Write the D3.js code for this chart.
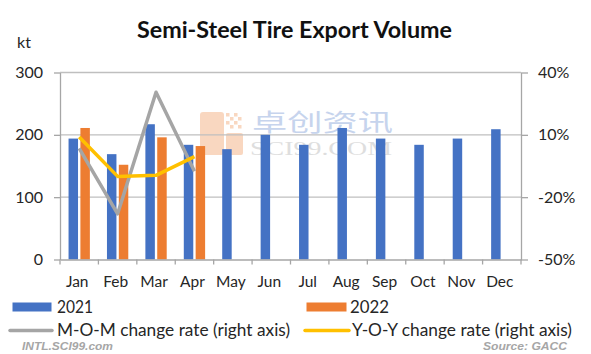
<!DOCTYPE html>
<html>
<head>
<meta charset="utf-8">
<script src="https://cdn.jsdelivr.net/npm/d3@7"></script>
<style>
  body { margin: 0; background: #fff; }
  svg { font-family: Lato, "Open Sans", sans-serif; }
</style>
</head>
<body>
<div id="container"></div>
<script>
const months = ["Jan", "Feb", "Mar", "Apr", "May", "Jun", "Jul", "Aug", "Sep", "Oct", "Nov", "Dec"]
const vol2021 = [194, 169, 217, 184, 177, 200, 184, 211, 194, 184, 194, 209]
const vol2022 = [211, 152, 196, 182]
const momRate = [3.5, -28, 30.5, -7.5]
const yoyRate = [9, -10, -9.5, -0.5]
const leftTicks = [0, 100, 200, 300]
const rightTicks = [-50, -20, 10, 40]

const width = 591, height = 354
const margin = {top: 72.5, right: 70, bottom: 94.5, left: 60}

const svg = d3.select("#container").append("svg")
    .attr("width", width)
    .attr("height", height)

const x = d3.scaleBand().domain(months).range([margin.left, width - margin.right])
const yL = d3.scaleLinear().domain([0, 300]).range([height - margin.bottom, margin.top])
const yR = d3.scaleLinear().domain([-50, 40]).range([height - margin.bottom, margin.top])
const xs = d3.scaleBand().domain(["2021", "2022"]).range([0, x.bandwidth() * 0.555]).paddingInner(0.2)
const groupOff = (x.bandwidth() - x.bandwidth() * 0.555) / 2

const blue = "#4472C4", orange = "#ED7D31", gray = "#A5A5A5", yellow = "#FFC000"

// watermark
const wm = svg.append("g").attr("opacity", 0.5)
const logo = "#f4b183"
wm.append("rect").attr("x", 200).attr("y", 112).attr("width", 24).attr("height", 43).attr("rx", 3).attr("fill", logo)
wm.append("rect").attr("x", 226).attr("y", 133).attr("width", 17).attr("height", 22).attr("rx", 2).attr("fill", logo)
;[[226, 113], [234, 113], [230, 117], [238, 117], [226, 121], [234, 121], [230, 125], [238, 125]].forEach(p => {
    wm.append("rect").attr("x", p[0]).attr("y", p[1]).attr("width", 3.5).attr("height", 3.5).attr("fill", logo)
})
wm.append("text").attr("x", 252).attr("y", 131).attr("font-family", "Noto Sans CJK SC")
    .attr("font-size", 24).attr("fill", "#8faadc")
    .attr("textLength", 141).attr("lengthAdjust", "spacingAndGlyphs").text("卓创资讯")
wm.append("text").attr("x", 250).attr("y", 155).attr("font-family", "Liberation Serif")
    .attr("font-size", 19).attr("fill", "#bfbfbf")
    .attr("textLength", 142).attr("lengthAdjust", "spacingAndGlyphs").text("SCI99.COM")

// gridlines
svg.append("g")
    .selectAll("line")
    .data(leftTicks.filter(d => d > 0))
    .join("line")
    .attr("x1", margin.left).attr("x2", width - margin.right)
    .attr("y1", d => yL(d)).attr("y2", d => yL(d))
    .attr("stroke", "#bfbfbf").attr("stroke-width", 1.3)

// bars
const bars = svg.append("g")
bars.selectAll("rect.b21")
    .data(vol2021)
    .join("rect")
    .attr("x", (d, i) => x(months[i]) + groupOff + xs("2021"))
    .attr("y", d => yL(d))
    .attr("width", xs.bandwidth())
    .attr("height", d => yL(0) - yL(d))
    .attr("fill", blue)
bars.selectAll("rect.b22")
    .data(vol2022)
    .join("rect")
    .attr("x", (d, i) => x(months[i]) + groupOff + xs("2022"))
    .attr("y", d => yL(d))
    .attr("width", xs.bandwidth())
    .attr("height", d => yL(0) - yL(d))
    .attr("fill", orange)

// axes
const axisColor = "#a6a6a6"
function styleAxis(g) {
    g.select(".domain").attr("stroke", axisColor).attr("stroke-width", 1.3)
    g.selectAll(".tick line").attr("stroke", axisColor).attr("stroke-width", 1.3)
    g.selectAll(".tick text").attr("fill", "#262626").attr("font-size", 16)
        .attr("font-family", "Lato, sans-serif")
}

svg.append("g")
    .attr("transform", `translate(${margin.left},0)`)
    .call(d3.axisLeft(yL).tickValues(leftTicks).tickSize(6).tickSizeOuter(0).tickPadding(11))
    .call(styleAxis)

svg.append("g")
    .attr("transform", `translate(${width - margin.right},0)`)
    .call(d3.axisRight(yR).tickValues(rightTicks).tickFormat(d => d + "%").tickSize(7).tickSizeOuter(0).tickPadding(10))
    .call(styleAxis)

const xAxis = svg.append("g")
    .attr("transform", `translate(0,${yL(0)})`)
    .call(d3.axisBottom(x).tickSize(0).tickPadding(16))
    .call(styleAxis)
xAxis.selectAll(".tick text").attr("font-size", 15.5).attr("dx", -2)
xAxis.selectAll(".bound")
    .data(d3.range(months.length + 1))
    .join("line")
    .attr("x1", i => margin.left + i * x.step())
    .attr("x2", i => margin.left + i * x.step())
    .attr("y1", 0).attr("y2", 5)
    .attr("stroke", axisColor).attr("stroke-width", 1.3)

// lines
const line = d3.line()
    .x((d, i) => x(months[i]) + x.bandwidth() / 2)
    .y(d => yR(d))

svg.append("path").datum(momRate)
    .attr("d", line).attr("fill", "none")
    .attr("stroke", gray).attr("stroke-width", 3.5).attr("stroke-linejoin", "round")
svg.append("path").datum(yoyRate)
    .attr("d", line).attr("fill", "none")
    .attr("stroke", yellow).attr("stroke-width", 3.5).attr("stroke-linejoin", "round")

// title and unit
svg.append("text")
    .attr("x", 137).attr("y", 38)
    .attr("font-size", 22).attr("font-weight", "bold").attr("fill", "#111")
    .attr("textLength", 315).attr("lengthAdjust", "spacingAndGlyphs")
    .text("Semi-Steel Tire Export Volume")
svg.append("text")
    .attr("x", 17).attr("y", 48)
    .attr("font-size", 16).attr("fill", "#262626")
    .text("kt")

// legend
const legendItems = [
    {name: "2021", color: blue, type: "rect", x: 12.5, y: 307, w: 39, tx: 57, tw: 36},
    {name: "2022", color: orange, type: "rect", x: 306.5, y: 307, w: 40, tx: 350, tw: 39},
    {name: "M-O-M change rate (right axis)", color: gray, type: "line", x: 10, y: 330.5, w: 42, tx: 57, tw: 233},
    {name: "Y-O-Y change rate (right axis)", color: yellow, type: "line", x: 305, y: 330.5, w: 44, tx: 352, tw: 220}
]
const lg = svg.append("g")
    .selectAll("g")
    .data(legendItems)
    .join("g")
lg.filter(d => d.type === "rect").append("rect")
    .attr("x", d => d.x).attr("y", d => d.y - 4.5)
    .attr("width", d => d.w).attr("height", 9)
    .attr("fill", d => d.color)
lg.filter(d => d.type === "line").append("line")
    .attr("x1", d => d.x).attr("x2", d => d.x + d.w)
    .attr("y1", d => d.y).attr("y2", d => d.y)
    .attr("stroke", d => d.color).attr("stroke-width", 3.5).attr("stroke-linecap", "round")
lg.append("text")
    .attr("x", d => d.tx)
    .attr("y", d => d.y).attr("dy", "0.36em")
    .attr("font-size", 16.5).attr("fill", "#262626")
    .attr("textLength", d => d.tw).attr("lengthAdjust", "spacingAndGlyphs")
    .text(d => d.name)

// footer
svg.append("text")
    .attr("x", 22).attr("y", 350)
    .attr("font-size", 10).attr("font-weight", "bold").attr("font-style", "italic")
    .attr("fill", "#a6a6a6").attr("font-family", "Liberation Sans")
    .attr("textLength", 91).attr("lengthAdjust", "spacingAndGlyphs")
    .text("INTL.SCI99.com")
svg.append("text")
    .attr("x", 483).attr("y", 350)
    .attr("font-size", 10).attr("font-weight", "bold").attr("font-style", "italic")
    .attr("fill", "#a6a6a6").attr("font-family", "Liberation Sans")
    .attr("textLength", 84).attr("lengthAdjust", "spacingAndGlyphs")
    .text("Source: GACC")
</script>
</body>
</html>
